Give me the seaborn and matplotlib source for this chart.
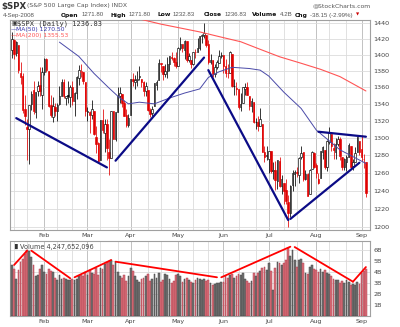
import numpy as np
import pandas as pd
import matplotlib
matplotlib.use("Agg")
import matplotlib.pyplot as plt
from matplotlib.ticker import NullLocator
import seaborn as sns

# ---------------- data ----------------
holidays = ["2008-01-21", "2008-02-18", "2008-03-21", "2008-05-26", "2008-07-04", "2008-09-01"]
dates = pd.bdate_range("2008-01-10", "2008-09-04", freq="C", holidays=holidays)

opens = [1406, 1419, 1402, 1412, 1377, 1374, 1334, 1313, 1310, 1340, 1357, 1330, 1355, 1363, 1351,
         1379, 1395, 1380, 1339, 1324, 1336, 1331, 1340, 1350, 1367, 1347, 1351, 1348, 1360, 1344,
         1353, 1371, 1379, 1379, 1367, 1330, 1330, 1327, 1332, 1301, 1294, 1274, 1321, 1305, 1316,
         1284, 1277, 1331, 1299, 1330, 1350, 1352, 1341, 1327, 1315, 1327, 1370, 1366, 1369, 1373,
         1370, 1366, 1355, 1357, 1333, 1329, 1338, 1363, 1369, 1390, 1386, 1376, 1380, 1388, 1397,
         1396, 1391, 1386, 1409, 1414, 1406, 1418, 1394, 1394, 1389, 1404, 1403, 1409, 1424, 1425,
         1425, 1414, 1391, 1393, 1376, 1385, 1390, 1398, 1400, 1386, 1377, 1377, 1401, 1361, 1359,
         1358, 1336, 1341, 1358, 1360, 1349, 1337, 1342, 1318, 1318, 1314, 1316, 1283, 1279, 1276,
         1285, 1262, 1263, 1251, 1273, 1245, 1248, 1241, 1227, 1215, 1246, 1258, 1261, 1257, 1278,
         1283, 1253, 1258, 1236, 1264, 1282, 1269, 1253, 1254, 1283, 1286, 1266, 1295, 1304, 1288,
         1283, 1293, 1298, 1278, 1267, 1272, 1278, 1290, 1268, 1272, 1283, 1296, 1287, 1276, 1271.8]
highs = [1429, 1420, 1418, 1412, 1391, 1378, 1351, 1322, 1339, 1356, 1368, 1354, 1368, 1385, 1385,
         1396, 1396, 1380, 1351, 1348, 1341, 1341, 1362, 1370, 1370, 1350, 1368, 1363, 1368, 1354,
         1374, 1387, 1389, 1379, 1367, 1336, 1332, 1345, 1332, 1314, 1295, 1321, 1334, 1322, 1322,
         1298, 1331, 1332, 1330, 1360, 1360, 1352, 1345, 1334, 1328, 1370, 1377, 1375, 1380, 1386,
         1370, 1368, 1367, 1357, 1335, 1337, 1365, 1369, 1395, 1390, 1386, 1388, 1397, 1398, 1403,
         1397, 1404, 1410, 1422, 1414, 1419, 1418, 1402, 1394, 1404, 1407, 1421, 1424, 1426, 1440,
         1425, 1419, 1401, 1393, 1388, 1393, 1406, 1404, 1400, 1395, 1388, 1405, 1401, 1370, 1366,
         1358, 1353, 1360, 1365, 1367, 1349, 1347, 1342, 1323, 1326, 1335, 1316, 1290, 1291, 1285,
         1285, 1272, 1273, 1274, 1278, 1257, 1248, 1253, 1235, 1246, 1263, 1263, 1267, 1278, 1291,
         1283, 1263, 1260, 1264, 1285, 1284, 1271, 1260, 1285, 1291, 1286, 1297, 1313, 1304, 1294,
         1300, 1302, 1301, 1278, 1277, 1280, 1294, 1290, 1276, 1289, 1301, 1296, 1303, 1281, 1271.8]
lows = [1396, 1395, 1398, 1378, 1364, 1329, 1315, 1274, 1270, 1333, 1328, 1323, 1349, 1350, 1334,
        1375, 1379, 1336, 1324, 1318, 1325, 1320, 1339, 1350, 1347, 1339, 1341, 1336, 1339, 1326,
        1346, 1363, 1373, 1364, 1326, 1320, 1305, 1322, 1303, 1282, 1272, 1274, 1306, 1283, 1274,
        1257, 1277, 1298, 1296, 1330, 1341, 1336, 1325, 1312, 1313, 1327, 1361, 1358, 1362, 1369,
        1360, 1350, 1350, 1331, 1324, 1325, 1338, 1357, 1369, 1379, 1369, 1372, 1371, 1380, 1394,
        1386, 1384, 1386, 1406, 1404, 1395, 1391, 1391, 1384, 1387, 1396, 1403, 1406, 1415, 1421,
        1410, 1388, 1388, 1373, 1373, 1382, 1390, 1396, 1377, 1372, 1371, 1377, 1360, 1351, 1351,
        1334, 1331, 1341, 1351, 1351, 1333, 1330, 1317, 1310, 1308, 1314, 1283, 1272, 1274, 1260,
        1260, 1253, 1241, 1242, 1244, 1236, 1225, 1225, 1200.4, 1211, 1240, 1245, 1255, 1248, 1276,
        1251, 1252, 1234, 1236, 1264, 1265, 1254, 1247, 1254, 1276, 1264, 1262, 1293, 1285, 1275,
        1276, 1290, 1274, 1263, 1263, 1262, 1278, 1264, 1263, 1272, 1283, 1280, 1273, 1265, 1232.83]
closes = [1420, 1401, 1416, 1381, 1373, 1333, 1325, 1310, 1339, 1352, 1331, 1354, 1362, 1356, 1379,
          1395, 1381, 1337, 1327, 1337, 1331, 1339, 1349, 1367, 1349, 1349, 1349, 1360, 1343, 1353,
          1372, 1381, 1380, 1368, 1331, 1331, 1327, 1334, 1304, 1293, 1273, 1321, 1309, 1316, 1288,
          1277, 1331, 1298, 1330, 1350, 1353, 1341, 1326, 1315, 1323, 1370, 1368, 1369, 1370, 1373,
          1366, 1355, 1361, 1333, 1328, 1334, 1365, 1366, 1390, 1388, 1376, 1380, 1389, 1398, 1396,
          1391, 1386, 1409, 1414, 1408, 1418, 1393, 1398, 1388, 1404, 1403, 1409, 1424, 1425, 1427,
          1413, 1391, 1394, 1376, 1385, 1391, 1398, 1400, 1386, 1378, 1377, 1404, 1361, 1362, 1358,
          1336, 1340, 1360, 1360, 1351, 1337, 1343, 1318, 1318, 1314, 1322, 1283, 1278, 1280, 1285,
          1262, 1263, 1252, 1274, 1245, 1253, 1240, 1228, 1215, 1245, 1260, 1261, 1260, 1277, 1282,
          1253, 1258, 1234, 1263, 1284, 1267, 1260, 1249, 1285, 1289, 1266, 1296, 1305, 1290, 1286,
          1293, 1298, 1279, 1267, 1275, 1278, 1292, 1267, 1272, 1282, 1301, 1283, 1278, 1275, 1236.83]
volumes_b = [4.6, 4.3, 3.4, 4.2, 4.9, 5.2, 5.6, 6.0, 5.9, 5.4, 4.6, 3.6, 3.7, 4.3, 4.6,
             4.0, 3.8, 4.3, 4.1, 4.0, 3.5, 3.3, 3.7, 3.4, 3.5, 3.4, 3.3, 3.3, 3.4, 3.3,
             3.4, 3.6, 3.7, 3.6, 4.0, 3.7, 4.2, 3.9, 3.8, 4.4, 3.7, 4.4, 4.3, 4.7, 4.9,
             5.0, 5.1, 4.6, 4.9, 4.0, 3.6, 3.5, 3.7, 3.2, 3.6, 4.4, 4.1, 3.6, 3.3, 3.1,
             3.4, 3.5, 3.6, 3.8, 3.2, 3.4, 3.8, 3.5, 3.9, 3.1, 3.3, 3.8, 3.7, 3.4, 3.0,
             3.2, 3.7, 3.8, 3.6, 3.1, 3.4, 3.5, 3.3, 3.1, 3.0, 3.3, 3.5, 3.4, 3.3, 3.4,
             3.2, 3.3, 3.0, 2.8, 2.9, 3.0, 3.0, 3.1, 3.1, 3.6, 3.5, 3.7, 3.8, 3.5, 3.6,
             3.8, 3.7, 3.9, 3.4, 3.2, 3.0, 3.2, 3.9, 3.6, 3.9, 4.1, 4.4, 4.5, 4.2, 4.8,
             4.1, 2.4, 4.4, 4.9, 4.8, 4.6, 4.8, 5.1, 6.2, 5.5, 6.0, 5.1, 4.5, 5.1, 5.2,
             4.8, 3.9, 3.8, 4.5, 4.6, 4.3, 4.2, 4.0, 4.3, 4.0, 4.2, 3.9, 3.8, 3.6, 3.4,
             3.3, 3.3, 3.0, 3.2, 3.0, 3.3, 3.1, 2.8, 2.9, 2.8, 3.1, 2.9, 3.9, 4.1, 4.25]

ma50_dates = ["2008-02-12", "2008-02-26", "2008-03-06", "2008-03-17", "2008-03-25",
              "2008-03-31", "2008-04-07", "2008-04-16", "2008-04-25", "2008-05-06", "2008-05-15",
              "2008-05-21", "2008-05-29", "2008-06-06", "2008-06-18", "2008-06-25", "2008-07-01",
              "2008-07-11", "2008-07-23", "2008-08-01", "2008-08-18", "2008-09-04"]
ma50 = [1416, 1398, 1377, 1359, 1347, 1340, 1342, 1340, 1347, 1353, 1358,
        1372, 1379, 1384.5, 1383, 1381, 1373.7, 1354, 1334.5, 1309, 1286, 1270.5]
ma200_dates = ["2008-04-01", "2008-04-08", "2008-04-21", "2008-05-02", "2008-05-15", "2008-05-29",
               "2008-06-12", "2008-06-24", "2008-07-09", "2008-07-23", "2008-08-05", "2008-08-18",
               "2008-09-04"]
ma200 = [1452, 1445, 1439, 1434, 1429, 1423, 1416.5, 1408, 1397.6, 1389.5, 1382, 1373, 1355.53]

# hand-drawn trend lines: (start date, start value, end date, end value)
price_trends = [("2008-01-14", 1323, "2008-03-14", 1266),
                ("2008-03-20", 1273.6, "2008-05-19", 1396.6),
                ("2008-05-21", 1381, "2008-07-15", 1207.8),
                ("2008-07-16", 1209, "2008-08-29", 1271.3),
                ("2008-08-04", 1307, "2008-09-04", 1301.2)]
volume_trends = [("2008-01-11", 4.64, "2008-01-22", 5.94),
                 ("2008-01-24", 5.94, "2008-02-20", 3.43),
                 ("2008-02-22", 3.52, "2008-03-18", 5.09),
                 ("2008-03-20", 4.94, "2008-05-28", 3.52),
                 ("2008-05-30", 3.52, "2008-07-16", 6.30),
                 ("2008-07-18", 6.27, "2008-08-26", 3.12),
                 ("2008-08-26", 3.12, "2008-09-04", 4.45)]

price_ticks = [1200, 1220, 1240, 1260, 1280, 1300, 1320, 1340, 1360, 1380, 1400, 1420, 1440]
volume_ticks = [1, 2, 3, 4, 5, 6]
volume_tick_labels = ["1B", "2B", "3B", "4B", "5B", "6B"]
month_names = ["Feb", "Mar", "Apr", "May", "Jun", "Jul", "Aug", "Sep"]

# ---------------- derived frame ----------------
df = pd.DataFrame({"date": dates, "open": opens, "high": highs, "low": lows,
                   "close": closes, "volume": volumes_b})
df["pos"] = np.arange(len(df))
prev = df["close"].shift(1)
df["down"] = (df["close"] < prev).fillna(False)


def pos_of(d):
    return int(dates.get_indexer([pd.Timestamp(d)])[0])


# first trading day on/after the 1st, 11th and 21st of each month
grid_minor, grid_major = [], []
for m in range(1, 10):
    for day in (1, 11, 21):
        t = pd.Timestamp(2008, m, day)
        idx = np.searchsorted(dates.values, np.datetime64(t))
        if t < dates[0] or idx >= len(dates):
            continue
        (grid_major if day == 1 else grid_minor).append(idx)
month_pos = grid_major

# ---------------- figure ----------------
sns.set_style("white")
plt.rcParams["font.family"] = ["DejaVu Sans"]

W, H = 400, 327
fig = plt.figure(figsize=(W / 100, H / 100), dpi=100)


def fx(x):
    return x / W


def fy(y):
    return 1 - y / H


ax = fig.add_axes([fx(10), fy(230), fx(360), (230 - 20) / H])
axv = fig.add_axes([fx(10), fy(316), fx(360), (316 - 241) / H])

RED = "#e00000"
BLACK = "#000000"
GRID = "#dcdcdc"
GRID_M = "#b8b8b8"
SPINE = "#a0a0a0"
TXT = "#555555"

xlim = (-0.9, 165.9)

for a in (ax, axv):
    a.set_xlim(*xlim)
    for p in grid_minor:
        a.axvline(p, color=GRID, lw=0.6, zorder=0)
    for p in grid_major:
        a.axvline(p, color=GRID_M, lw=0.6, zorder=0)
    for s in a.spines.values():
        s.set_color(SPINE)
        s.set_linewidth(0.8)
    a.set_xticks(month_pos)
    a.set_xticklabels(month_names)
    a.tick_params(axis="x", length=0, pad=2.5, labelsize=4.6, labelcolor="#444444")
    a.tick_params(axis="y", length=0, pad=2.5, labelsize=4.6, labelcolor="#444444")
    a.yaxis.tick_right()

# price panel
ax.set_yscale("log")
ax.set_ylim(1197.1, 1444.3)
ax.yaxis.set_minor_locator(NullLocator())
ax.set_yticks(price_ticks)
ax.set_yticklabels([str(t) for t in price_ticks])
for t in price_ticks:
    ax.axhline(t, color=GRID, lw=0.6, zorder=0)

edge = np.where(df["down"], RED, BLACK)
face = np.where(df["close"] < df["open"], edge, "white")
ax.vlines(df["pos"], df["low"], df["high"], colors=edge, lw=0.55, zorder=3)
body_lo = np.minimum(df["open"], df["close"])
body_h = np.maximum(np.abs(df["close"] - df["open"]), 0.6)
ax.bar(df["pos"], body_h, bottom=body_lo, width=0.7, color=face,
       edgecolor=edge, linewidth=0.45, zorder=4)

ma50_df = pd.DataFrame({"pos": [pos_of(d) for d in ma50_dates], "val": ma50})
ma200_df = pd.DataFrame({"pos": [pos_of(d) for d in ma200_dates], "val": ma200})
sns.lineplot(data=ma50_df, x="pos", y="val", ax=ax, color="#4a4aa8", lw=0.7, zorder=5)
sns.lineplot(data=ma200_df, x="pos", y="val", ax=ax, color="#ff5555", lw=0.8, zorder=5)

for d0, v0, d1, v1 in price_trends:
    ax.plot([pos_of(d0), pos_of(d1)], [v0, v1], color="#0b0b86", lw=1.6,
            solid_capstyle="round", zorder=6)
ax.set_xlabel("")
ax.set_ylabel("")

# volume panel
axv.set_ylim(0, 6.82)
axv.set_yticks(volume_ticks)
axv.set_yticklabels(volume_tick_labels)
for t in volume_ticks:
    axv.axhline(t, color=GRID, lw=0.6, zorder=0)
vface = np.where(df["down"], "#d9707a", "#737373")
vedge = np.where(df["down"], "#b04050", "#454545")
axv.bar(df["pos"], df["volume"], width=0.82, color=vface, edgecolor=vedge,
        linewidth=0.35, zorder=3)
for d0, v0, d1, v1 in volume_trends:
    axv.plot([pos_of(d0), pos_of(d1)], [v0, v1], color="#ff0000", lw=1.3, zorder=6)

# ---------------- header and legends ----------------
fig.text(fx(1), fy(6), "$SPX", fontsize=6.2, fontweight="bold", color="#333333", va="center")
fig.text(fx(27), fy(6), "(S&P 500 Large Cap Index) INDX", fontsize=4.4, color=TXT, va="center")
fig.text(fx(313), fy(6), "@StockCharts.com", fontsize=4.4, color=TXT, va="center")

# quote line laid out piece by piece, each starting after the previous one
row2 = [("4-Sep-2008", False, 1), ("Open", True, 61), ("1271.80", False, None),
        ("High", True, 110), ("1271.80", False, None), ("Low", True, 157),
        ("1232.83", False, None), ("Close", True, 204), ("1236.83", False, None),
        ("Volume", True, 252), ("4.2B", False, None), ("Chg", True, None),
        ("-38.15 (-2.99%)", False, None)]
renderer = fig.canvas.get_renderer()
cursor = 0.0
for s, bold, x in row2:
    start = x if x is not None else cursor + 2.5
    start = max(start, cursor + 2.5)
    t = fig.text(fx(start), fy(15), s, fontsize=4.3 if bold else 4.4,
                 fontweight="bold" if bold else "normal",
                 family="DejaVu Sans" if bold else "Liberation Sans",
                 color="#111111" if bold else TXT, va="center")
    bb = t.get_window_extent(renderer)
    cursor = bb.x1 * W / fig.bbox.width
fig.text(fx(cursor + 2.5), fy(15), "\u25bc", fontsize=3.0, color="#cc0000", va="center")

fig.text(fx(11), fy(23.5), "\u25a3", fontsize=4.4, color="#333333", va="center")
fig.text(fx(17), fy(23.5), "$SPX (Daily) 1236.83", fontsize=5.0, color="#333333",
         va="center", family="DejaVu Sans Mono")
fig.text(fx(11), fy(29.5), "\u2014", fontsize=4.4, color="#3333aa", va="center")
fig.text(fx(16), fy(29.5), "MA(50) 1270.50", fontsize=4.3, color="#3333aa", va="center")
fig.text(fx(11), fy(36), "\u2014", fontsize=4.4, color="#ff3333", va="center")
fig.text(fx(16), fy(36), "MA(200) 1355.53", fontsize=4.3, color="#ff5555", va="center")

fig.text(fx(12), fy(246.5), "\u2590\u258c", fontsize=3.6, color="#333333", va="center")
fig.text(fx(20), fy(246.5), "Volume 4,247,652,096", fontsize=4.7, color="#444444", va="center")

fig.savefig("out.png", dpi=100)
